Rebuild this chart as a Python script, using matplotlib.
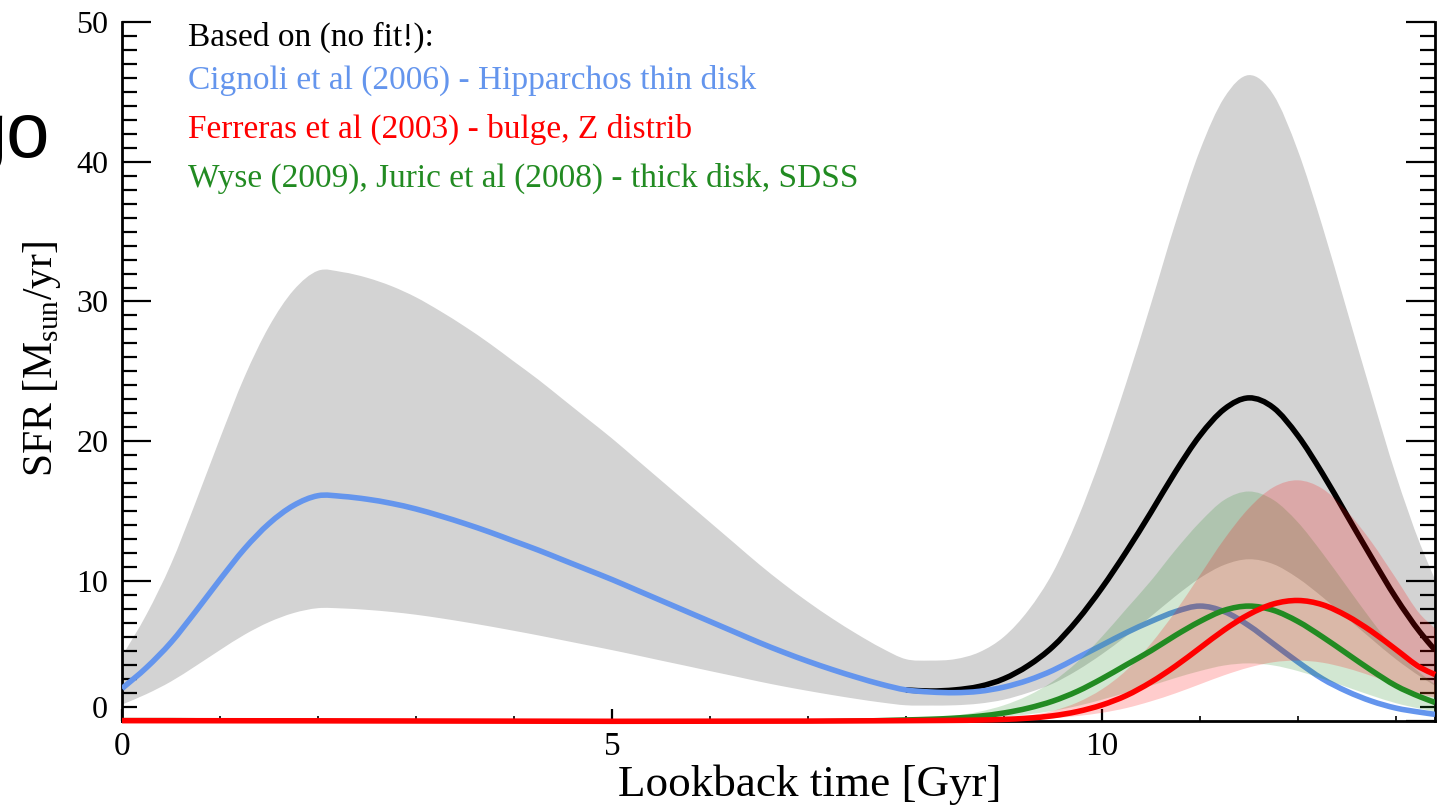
import matplotlib
matplotlib.use("Agg")
import matplotlib.pyplot as plt
from matplotlib.path import Path
from matplotlib.patches import PathPatch
from matplotlib.ticker import MultipleLocator, FuncFormatter
import numpy as np

plt.rcParams['font.family'] = ['Liberation Serif', 'DejaVu Serif']
plt.rcParams['mathtext.fontset'] = 'custom'
plt.rcParams['mathtext.rm'] = 'Liberation Serif'

# lookback time grid [Gyr]
t = np.append(np.arange(0, 13.3, 0.25), 13.4)
t_late = t[t >= 8]

# Cignoli et al (2006) thin disk SFR
blue = [2.3, 3.8, 5.6, 7.8, 10.1, 12.3, 14.1, 15.4, 16.1, 16.05, 15.85, 15.55, 15.15,
        14.65, 14.1, 13.5, 12.85, 12.2, 11.5, 10.8, 10.1, 9.35, 8.6, 7.85, 7.1, 6.35,
        5.6, 4.9, 4.25, 3.65, 3.1, 2.6, 2.2,
        2.05, 2.0, 2.1, 2.4, 2.9, 3.6, 4.5, 5.4, 6.3, 7.1, 7.8, 8.2, 7.8, 6.8, 5.5,
        4.2, 3.0, 2.1, 1.4, 0.9, 0.6, 0.45]

# total uncertainty band
gray_hi = [4.6, 7.6, 11.2, 15.6, 20.2, 24.6, 28.2, 30.8, 32.2, 32.1, 31.7, 31.1, 30.3,
           29.3, 28.2, 27.0, 25.7, 24.4, 23.0, 21.6, 20.2, 18.7, 17.2, 15.7, 14.2, 12.7,
           11.2, 9.8, 8.5, 7.3, 6.2, 5.2, 4.4,
           4.3, 4.4, 4.9, 6.0, 7.9, 10.6, 14.4, 19.0, 24.2, 29.8, 35.6, 40.8, 44.6, 46.2,
           44.8, 40.8, 35.4, 29.4, 23.4, 17.6, 12.6, 10.1]
gray_lo = [1.15, 1.9, 2.8, 3.9, 5.05, 6.15, 7.05, 7.7, 8.05, 8.03, 7.93, 7.78, 7.58,
           7.33, 7.05, 6.75, 6.43, 6.1, 5.75, 5.4, 5.05, 4.68, 4.3, 3.93, 3.55, 3.18,
           2.8, 2.45, 2.13, 1.83, 1.55, 1.3, 1.1,
           1.08, 1.1, 1.22, 1.5, 2.0, 2.65, 3.6, 4.75, 6.05, 7.45, 8.9, 10.2, 11.15, 11.55,
           11.2, 10.2, 8.85, 7.35, 5.85, 4.4, 3.15, 2.5]

# total SFR (late part, t >= 8)
black = [2.2, 2.12, 2.2, 2.45, 3.0, 3.95, 5.3, 7.2, 9.5, 12.1, 14.9, 17.8, 20.4,
         22.3, 23.1, 22.4, 20.4, 17.7, 14.7, 11.7, 8.8, 6.3, 5.05]

# thick disk (Wyse / Juric)
green = [0.05, 0.1, 0.18, 0.32, 0.55, 0.9, 1.4, 2.1, 3.0, 4.0, 5.0, 6.1, 7.1,
         7.9, 8.2, 7.9, 7.1, 6.0, 4.8, 3.6, 2.5, 1.7, 1.3]
green_hi = [0.1, 0.2, 0.36, 0.64, 1.1, 1.8, 2.8, 4.2, 6.0, 8.0, 10.0, 12.2, 14.2,
            15.8, 16.4, 15.8, 14.2, 12.0, 9.6, 7.2, 5.0, 3.4, 2.6]
green_lo = [0.03, 0.05, 0.09, 0.16, 0.28, 0.45, 0.7, 1.05, 1.5, 2.0, 2.5, 3.05, 3.55,
            3.95, 4.1, 3.95, 3.55, 3.0, 2.4, 1.8, 1.25, 0.85, 0.65]

# bulge (Ferreras)
red = [0.0, 0.01, 0.02, 0.04, 0.09, 0.18, 0.35, 0.65, 1.12, 1.8, 2.75, 3.9, 5.2,
       6.5, 7.6, 8.35, 8.6, 8.3, 7.5, 6.4, 5.1, 3.8, 3.3]
red_hi = [0.0, 0.02, 0.04, 0.08, 0.18, 0.36, 0.7, 1.3, 2.24, 3.6, 5.5, 7.8, 10.4,
          13.0, 15.2, 16.7, 17.2, 16.6, 15.0, 12.8, 10.2, 7.6, 6.6]
red_lo = [0.0, 0.005, 0.01, 0.02, 0.05, 0.09, 0.18, 0.33, 0.56, 0.9, 1.38, 1.95, 2.6,
          3.25, 3.8, 4.18, 4.3, 4.15, 3.75, 3.2, 2.55, 1.9, 1.65]

notes = ["Based on (no fit!):",
         "Cignoli et al (2006) - Hipparchos thin disk",
         "Ferreras et al (2003) - bulge, Z distrib",
         "Wyse (2009), Juric et al (2008) - thick disk, SDSS"]
note_colors = ["black", "cornflowerblue", "red", "forestgreen"]


def curve(x, y):
    # smooth (cubic hermite) path segments through the data points
    x = np.asarray(x, float)
    y = np.asarray(y, float)
    m = np.gradient(y, x)
    verts = [(x[0], y[0])]
    codes = [Path.MOVETO]
    for i in range(len(x) - 1):
        h = x[i + 1] - x[i]
        verts += [(x[i] + h / 3, y[i] + m[i] * h / 3),
                  (x[i + 1] - h / 3, y[i + 1] - m[i + 1] * h / 3),
                  (x[i + 1], y[i + 1])]
        codes += [Path.CURVE4] * 3
    return verts, codes


def smooth_line(ax, x, y, **kw):
    v, c = curve(x, y)
    ax.add_patch(PathPatch(Path(v, c), fill=False, capstyle='butt', **kw))


def smooth_band(ax, x, lo, hi, **kw):
    v1, c1 = curve(x, hi)
    v2, c2 = curve(x[::-1], lo[::-1])
    c2[0] = Path.LINETO
    v = v1 + v2 + [v1[0]]
    c = c1 + c2 + [Path.CLOSEPOLY]
    ax.add_patch(PathPatch(Path(v, c), lw=0, **kw))


fig = plt.figure(figsize=(14.44, 8.07), dpi=100)
ax = fig.add_axes([0.0845, 0.1070, 0.9093, 0.8657])

lw = 4.0
smooth_band(ax, t, gray_lo, gray_hi, facecolor='lightgray', zorder=1)
smooth_line(ax, t_late, black, edgecolor='black', lw=lw, zorder=2)
smooth_line(ax, t, blue, edgecolor='cornflowerblue', lw=lw, zorder=3)
smooth_band(ax, t_late, green_lo, green_hi, facecolor='forestgreen', alpha=0.2, zorder=4)
smooth_band(ax, t_late, red_lo, red_hi, facecolor='red', alpha=0.2, zorder=5)
smooth_line(ax, np.append(0, t_late), np.append(0, green), edgecolor='forestgreen',
            lw=lw, zorder=6)
smooth_line(ax, np.append(0, t_late), np.append(0, red), edgecolor='red',
            lw=lw, zorder=7, clip_on=False)

ax.set_xlim(0, 13.4)
ax.set_ylim(0, 50)
ax.xaxis.set_major_locator(MultipleLocator(5))
ax.xaxis.set_minor_locator(MultipleLocator(1))
ax.yaxis.set_major_locator(MultipleLocator(10))
ax.yaxis.set_minor_locator(MultipleLocator(1))
# the zero label is drawn by hand below, a little higher as in the original
ax.yaxis.set_major_formatter(FuncFormatter(lambda v, p: '' if v == 0 else '%d' % v))

ax.spines['top'].set_visible(False)
for s in ['left', 'right', 'bottom']:
    ax.spines[s].set_linewidth(2.0)
ax.tick_params(axis='y', which='major', direction='in', length=21, width=1.6,
               left=True, right=True, labelsize=23, pad=10)
ax.tick_params(axis='y', which='minor', direction='in', length=10.5, width=1.6,
               left=True, right=True)
ax.tick_params(axis='x', which='major', direction='in', length=9, width=1.6,
               top=False, labelsize=24, pad=8)
ax.tick_params(axis='x', which='minor', direction='in', length=3.5, width=1.2, top=False)

ax.annotate('0', xy=(0, 0), xycoords=('axes fraction', 'data'), xytext=(-10, 7),
            textcoords='offset points', ha='right', va='center', fontsize=23)

ax.set_xlabel("Lookback time [Gyr]", fontsize=32.5)
ax.xaxis.set_label_coords(0.524, -0.063)
ax.set_ylabel(r"SFR [M$_{\rm sun}$/yr]", fontsize=30)
ax.yaxis.set_label_coords(-0.045, 0.518)

baselines = [46, 89, 138, 187]
for txt, c, b in zip(notes, note_colors, baselines):
    ax.text(0.0503, (720.7 - b) / 698.7, txt, color=c, fontsize=24,
            transform=ax.transAxes, ha='left', va='baseline')

fig.text(50 / 1444, 1 - 157 / 807, "go", fontsize=56, family='Liberation Sans',
         ha='right', va='baseline')

fig.savefig("out.png", dpi=100)
